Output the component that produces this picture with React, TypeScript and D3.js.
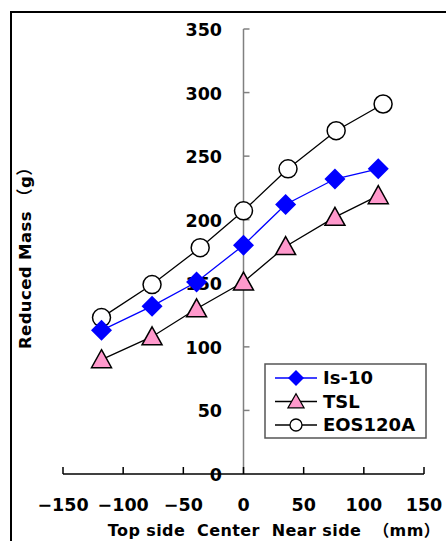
import React from "react";
import * as d3 from "d3";

const seriesNames = ["Is-10", "TSL", "EOS120A"];
const isX = [-118, -76, -39, 0, 35, 76, 112];
const isY = [113, 132, 151, 180, 212, 232, 240];
const tslX = [-118, -76, -39, 0, 35, 76, 112];
const tslY = [90, 108, 130, 151, 179, 202, 219];
const eosX = [-118, -76, -36, 0, 37, 77, 116];
const eosY = [123, 149, 178, 207, 240, 270, 291];
const xTicks = [-150, -100, -50, 0, 50, 100, 150];
const yTicks = [0, 50, 100, 150, 200, 250, 300, 350];

const W = 446;
const H = 541;

export default function App() {
  const x = d3.scaleLinear().domain([-150, 150]).range([63, 424]);
  const y = d3.scaleLinear().domain([0, 350]).range([474, 29]);
  const line = d3
    .line<[number, number]>()
    .x((d) => x(d[0]))
    .y((d) => y(d[1]));
  const zip = (a: number[], b: number[]) => a.map((v, i) => [v, b[i]] as [number, number]);
  const isPts = zip(isX, isY);
  const tslPts = zip(tslX, tslY);
  const eosPts = zip(eosX, eosY);
  const font = "'DejaVu Sans', 'Noto Sans CJK JP', sans-serif";

  const diamond = (cx: number, cy: number, r = 10.5) =>
    `M${cx},${cy - r}L${cx + r},${cy}L${cx},${cy + r}L${cx - r},${cy}Z`;
  const tri = (cx: number, cy: number, w = 20, h = 18) =>
    `M${cx},${cy - h * 0.55}L${cx + w / 2},${cy + h * 0.45}L${cx - w / 2},${cy + h * 0.45}Z`;

  const legX = 265;
  const legY = 364;
  const legRows = [378, 401.5, 425];

  return (
    <svg width={W} height={H} style={{ position: "absolute", left: 0, top: 0 }}>
      <rect x={0} y={0} width={W} height={H} fill="white" />
      <path d={`M11,${H + 5}L11,12L${W + 5},12`} fill="none" stroke="black" strokeWidth={2} />

      {/* y axis */}
      <line x1={x(0)} x2={x(0)} y1={y(350)} y2={y(0)} stroke="#808080" strokeWidth={1.5} />
      {yTicks.map((t) => (
        <g key={"y" + t}>
          {t > 0 && (
            <line x1={x(0)} x2={x(0) + 6} y1={y(t)} y2={y(t)} stroke="#808080" strokeWidth={1.5} />
          )}
          <text
            x={222}
            y={y(t) + 2}
            textAnchor="end"
            dominantBaseline="middle"
            fontFamily={font}
            fontWeight="bold"
            fontSize={17.5}
          >
            {t}
          </text>
        </g>
      ))}

      {/* x axis */}
      <line x1={x(-150)} x2={x(150)} y1={y(0)} y2={y(0)} stroke="black" strokeWidth={1.5} />
      {xTicks.map((t) => (
        <g key={"x" + t}>
          <line x1={x(t)} x2={x(t)} y1={y(0)} y2={y(0) - 7} stroke="black" strokeWidth={1.5} />
          <text
            x={x(t)}
            y={506}
            textAnchor="middle"
            dominantBaseline="middle"
            fontFamily={font}
            fontWeight="bold"
            fontSize={17.5}
          >
            {t < 0 ? "\u2212" + Math.abs(t) : t}
          </text>
        </g>
      ))}

      <text
        x={274}
        y={531}
        textAnchor="middle"
        dominantBaseline="middle"
        fontFamily={font}
        fontWeight="bold"
        fontSize={16}
        letterSpacing={0.4}
        xmlSpace="preserve"
      >
        {"Top side  Center  Near side  \uFF08mm\uFF09"}
      </text>
      <text
        transform={`translate(26,254) rotate(-90)`}
        textAnchor="middle"
        dominantBaseline="middle"
        fontFamily={font}
        fontWeight="bold"
        fontSize={16.5}
        letterSpacing={0.4}
      >
        {"Reduced Mass \uFF08g\uFF09"}
      </text>

      {/* series lines */}
      <path d={line(eosPts) || ""} fill="none" stroke="black" strokeWidth={1.3} />
      <path d={line(tslPts) || ""} fill="none" stroke="black" strokeWidth={1.3} />
      <path d={line(isPts) || ""} fill="none" stroke="#0000FF" strokeWidth={1.3} />

      {eosPts.map((p, i) => (
        <circle key={"e" + i} cx={x(p[0])} cy={y(p[1])} r={9} fill="white" stroke="black" strokeWidth={1.5} />
      ))}
      {tslPts.map((p, i) => (
        <path key={"t" + i} d={tri(x(p[0]), y(p[1]))} fill="#FF99CC" stroke="black" strokeWidth={1.5} />
      ))}
      {isPts.map((p, i) => (
        <path key={"i" + i} d={diamond(x(p[0]), y(p[1]))} fill="#0000FF" />
      ))}

      {/* legend */}
      <rect x={legX} y={legY} width={161} height={74} fill="white" stroke="#555" strokeWidth={1.5} />
      {seriesNames.map((n, i) => {
        const cy = legRows[i];
        return (
          <g key={n}>
            <line x1={275} x2={317} y1={cy} y2={cy} stroke={i === 0 ? "#0000FF" : "black"} strokeWidth={1.3} />
            {i === 0 && <path d={diamond(296, cy, 8)} fill="#0000FF" />}
            {i === 1 && <path d={tri(296, cy, 16, 14)} fill="#FF99CC" stroke="black" strokeWidth={1.3} />}
            {i === 2 && <circle cx={296} cy={cy} r={6} fill="white" stroke="black" strokeWidth={1.3} />}
            <text
              x={323}
              y={cy + 1}
              dominantBaseline="middle"
              fontFamily={font}
              fontWeight="bold"
              fontSize={18}
            >
              {n}
            </text>
          </g>
        );
      })}
    </svg>
  );
}
